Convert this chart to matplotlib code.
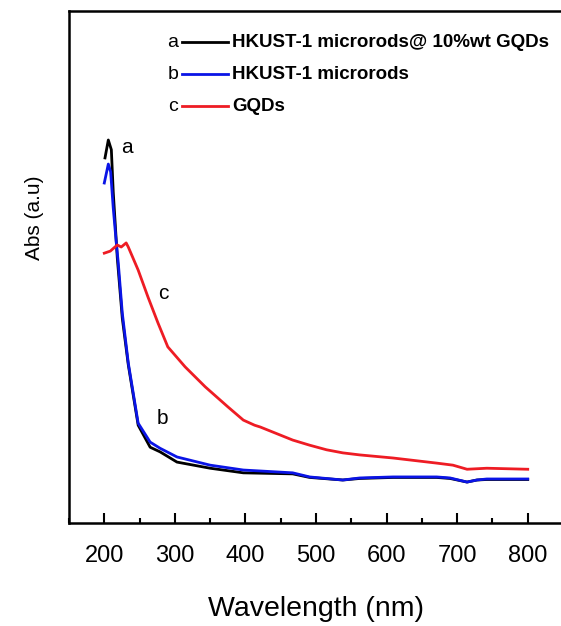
import matplotlib
matplotlib.use("Agg")
import matplotlib.pyplot as plt
from matplotlib.ticker import MultipleLocator

# UV-vis absorbance spectra (arbitrary units)
wl_a = [201, 205.7, 210, 212.7, 215.6, 218.4, 225.5, 234, 248, 265, 279, 303,
        350, 397, 467, 491, 538, 562, 609, 671, 690, 714, 728, 742, 800]
abs_a = [0.713, 0.748, 0.729, 0.646, 0.582, 0.518, 0.400, 0.309, 0.191, 0.148,
         0.139, 0.119, 0.107, 0.098, 0.096, 0.089, 0.084, 0.087, 0.089, 0.089,
         0.087, 0.080, 0.084, 0.085, 0.085]

wl_b = [200, 205.7, 209, 212.7, 216.9, 219.8, 225.5, 234, 248, 265, 279, 303,
        350, 397, 467, 491, 538, 562, 609, 671, 690, 714, 728, 742, 800]
abs_b = [0.664, 0.701, 0.686, 0.615, 0.549, 0.508, 0.410, 0.3125, 0.195, 0.158,
         0.146, 0.129, 0.113, 0.1035, 0.098, 0.090, 0.084, 0.088, 0.090, 0.090,
         0.088, 0.080, 0.084, 0.086, 0.086]

wl_c = [200, 208.5, 218.4, 224, 231, 234, 248, 262, 276, 290, 314.5, 343, 375,
        397, 413, 421, 467, 491, 515, 538, 562, 609, 671, 694, 714, 742, 800]
abs_c = [0.527, 0.531, 0.543, 0.539, 0.547, 0.539, 0.494, 0.441, 0.391, 0.344,
         0.305, 0.266, 0.227, 0.201, 0.191, 0.1875, 0.162, 0.152, 0.143, 0.137,
         0.133, 0.127, 0.117, 0.113, 0.105, 0.107, 0.105]

letters = ["a", "b", "c"]
names = ["HKUST-1 microrods@ 10%wt GQDs", "HKUST-1 microrods", "GQDs"]
colors = ["#000000", "#0a14e6", "#ee1c24"]

plt.rcParams["font.family"] = ["Liberation Sans", "DejaVu Sans"]

fig = plt.figure(figsize=(5.61, 6.26), dpi=100)
ax = fig.add_axes([0.123, 0.1645, 0.8806, 0.818])

ax.plot(wl_a, abs_a, color=colors[0], lw=2.0)
ax.plot(wl_b, abs_b, color=colors[1], lw=2.0)
ax.plot(wl_c, abs_c, color=colors[2], lw=2.0)

ax.set_xlim(150, 850)
ax.set_ylim(0, 1)
ax.xaxis.set_major_locator(MultipleLocator(100))
ax.xaxis.set_minor_locator(MultipleLocator(50))
ax.set_yticks([])
ax.tick_params(axis="x", which="major", direction="in", length=7, width=1.5,
               labelsize=17, pad=16)
ax.tick_params(axis="x", which="minor", direction="in", length=3.6, width=1.5)
for s in ax.spines.values():
    s.set_linewidth(1.8)

ax.set_xlabel("Wavelength (nm)", fontsize=20.5, labelpad=21)
ax.set_ylabel("Abs (a.u)", fontsize=15)
ax.yaxis.set_label_coords(-0.051, 0.596)

# curve labels
ax.text(232.5, 0.734, "a", fontsize=15, ha="center", va="center")
ax.text(282, 0.205, "b", fontsize=15, ha="center", va="center")
ax.text(283.5, 0.449, "c", fontsize=15, ha="center", va="center")

# key in the upper part of the frame
for i, (lt, nm, col) in enumerate(zip(letters, names, colors)):
    y = 0.939 - i * 0.0625
    ax.text(0.2105, y, lt, transform=ax.transAxes, fontsize=14,
            ha="center", va="center")
    ax.plot([0.229, 0.322], [y, y], transform=ax.transAxes, color=col, lw=2.0)
    ax.text(0.330, y, nm, transform=ax.transAxes, fontsize=13.5,
            fontweight="bold", ha="left", va="center")

fig.savefig("out.png", dpi=100)
